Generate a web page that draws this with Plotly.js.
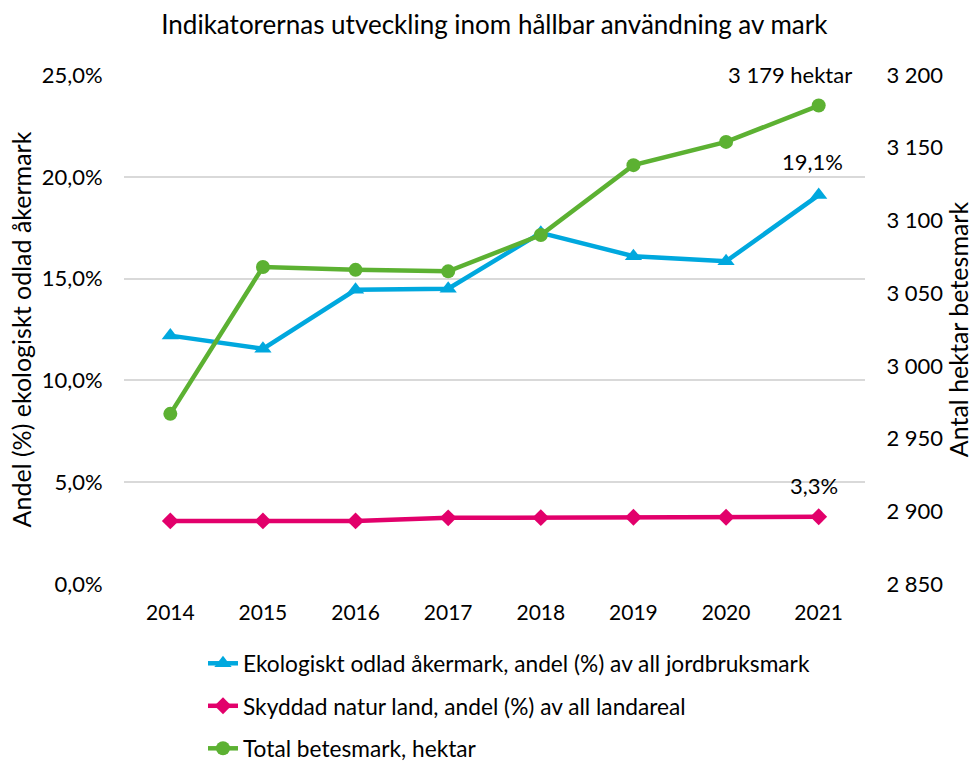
<!DOCTYPE html>
<html>
<head>
<meta charset="utf-8">
<script src="https://cdn.plot.ly/plotly-3.0.1.min.js"></script>
<style>html,body{margin:0;padding:0;background:#fff;}#chart{width:977px;height:763px;}</style>
</head>
<body>
<div id="chart"></div>
<script>
const years = [2014, 2015, 2016, 2017, 2018, 2019, 2020, 2021];
const ekologiskt = [12.2, 11.55, 14.45, 14.5, 17.25, 16.1, 15.85, 19.1];
const skyddad = [3.1, 3.1, 3.1, 3.25, 3.26, 3.28, 3.28, 3.3];
const betesmark = [2967, 3068, 3066, 3065, 3090, 3138, 3154, 3179];
const names = [
  'Ekologiskt odlad åkermark, andel (%) av all jordbruksmark',
  'Skyddad natur land, andel (%) av all landareal',
  'Total betesmark, hektar'
];
const labelEko = '19,1%';
const labelSky = '3,3%';
const labelBet = '3 179 hektar';

const FONT = 'Lato, "Open Sans", sans-serif';
const cBlue = '#00a8de', cRed = '#e2006b', cGreen = '#5cb132';

const traces = [
  {x: years, y: ekologiskt, name: names[0], type: 'scatter', mode: 'lines+markers', legendgroup: 'a',
   line: {color: cBlue, width: 4.5}, marker: {symbol: 'triangle-up', size: 15, color: cBlue}},
  {x: years, y: skyddad, name: names[1], type: 'scatter', mode: 'lines+markers', legendgroup: 'b',
   line: {color: cRed, width: 4.5}, marker: {symbol: 'diamond', size: 13, color: cRed}},
  {x: years, y: betesmark, name: names[2], type: 'scatter', mode: 'lines+markers', legendgroup: 'c', yaxis: 'y2',
   line: {color: cGreen, width: 4.5}, marker: {symbol: 'circle', size: 14, color: cGreen}}
];

const last = years.length - 1;
const layout = {
  width: 977, height: 763,
  separators: ', ',
  font: {family: FONT, color: '#000', size: 21},
  paper_bgcolor: '#fff', plot_bgcolor: '#fff',
  margin: {l: 124, r: 112, t: 75, b: 179, autoexpand: false},
  title: {text: 'Indikatorernas utveckling inom hållbar användning av mark', font: {size: 26, color: '#000'},
          x: 0.506, xanchor: 'center', y: 0.967, yanchor: 'middle'},
  showlegend: true,
  legend: {orientation: 'v', x: 0.1066, xanchor: 'left', y: -0.114, yanchor: 'top',
           font: {size: 22.7, color: '#000'}, tracegroupgap: 10, bgcolor: 'rgba(0,0,0,0)'},
  xaxis: {type: 'linear', range: [2013.5, 2021.5], dtick: 1, tick0: 2014, tickformat: 'd',
          showgrid: false, zeroline: false, showline: false, automargin: false,
          ticks: 'outside', ticklen: 10, tickcolor: 'rgba(0,0,0,0)', tickfont: {size: 21}},
  yaxis: {range: [0, 25], dtick: 5, tick0: 0, tickformat: '.1f', ticksuffix: '%', automargin: false,
          showgrid: true, gridcolor: '#d9d9d9', gridwidth: 2, zeroline: false, showline: false,
          ticks: 'outside', ticklen: 16, tickcolor: 'rgba(0,0,0,0)', tickfont: {size: 22},
          title: {text: 'Andel (%) ekologiskt odlad åkermark', font: {size: 25}, standoff: 2}},
  yaxis2: {overlaying: 'y', side: 'right', range: [2850, 3200], dtick: 50, tick0: 2850, tickformat: ',d',
           showgrid: false, zeroline: false, showline: false, automargin: false,
           ticks: 'outside', ticklen: 16, tickcolor: 'rgba(0,0,0,0)', tickfont: {size: 22},
           title: {text: 'Antal hektar betesmark', font: {size: 25}, standoff: 8}},
  annotations: [
    {x: years[last], y: betesmark[last], xref: 'x', yref: 'y2', text: labelBet, showarrow: false,
     xanchor: 'center', yanchor: 'bottom', xshift: -29, yshift: 16, font: {size: 22}},
    {x: years[last], y: ekologiskt[last], xref: 'x', yref: 'y', text: labelEko, showarrow: false,
     xanchor: 'center', yanchor: 'bottom', xshift: -6, yshift: 18, font: {size: 22}},
    {x: years[last], y: skyddad[last], xref: 'x', yref: 'y', text: labelSky, showarrow: false,
     xanchor: 'center', yanchor: 'bottom', xshift: -5, yshift: 16, font: {size: 22}}
  ]
};

Plotly.newPlot('chart', traces, layout, {displayModeBar: false, staticPlot: true});
</script>
</body>
</html>
